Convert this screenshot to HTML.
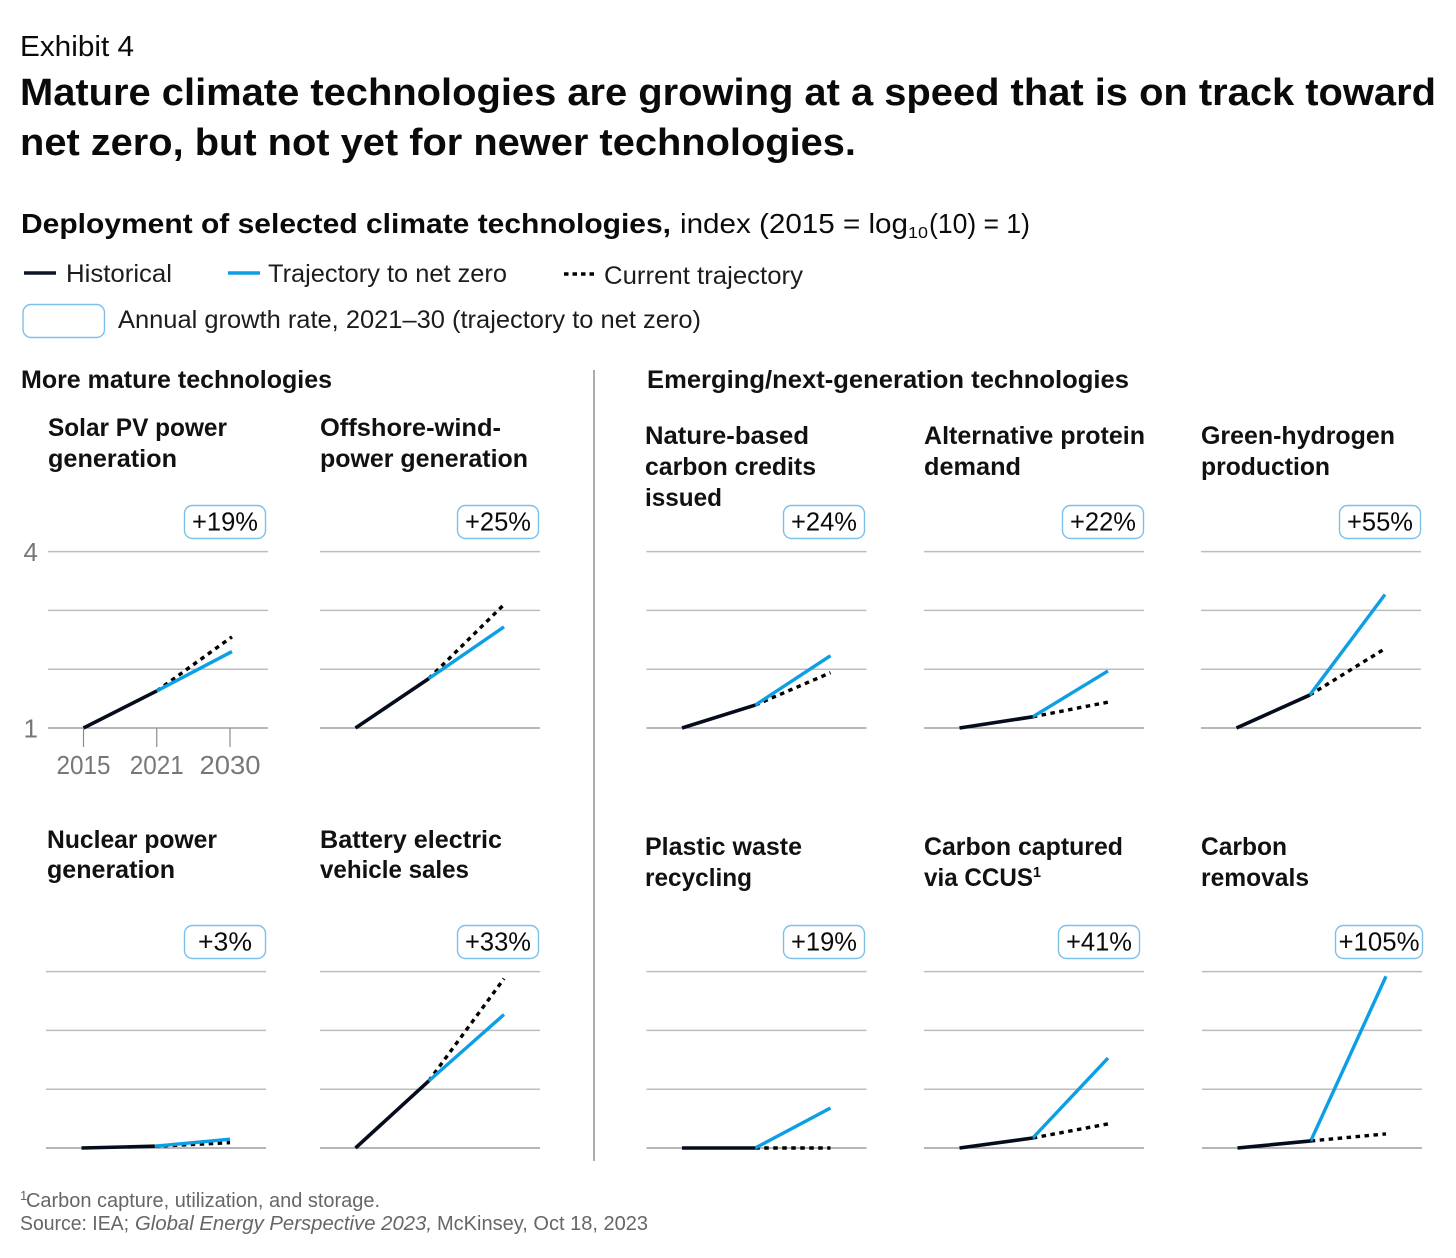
<!DOCTYPE html>
<html lang="en">
<head>
<meta charset="utf-8">
<title>Exhibit 4 - Deployment of selected climate technologies</title>
<style>
html,body{margin:0;padding:0;background:#fff;}
body{width:1456px;height:1258px;overflow:hidden;}
svg{display:block;}
text{font-family:"Liberation Sans",sans-serif;fill:#0a0a0a;}
.b{font-weight:700;}
.t{font-size:25px;fill:#1c1c1c;}
.p{font-size:25px;font-weight:700;fill:#111;}
.f{font-size:20px;fill:#666;}
</style>
</head>
<body>
<svg id="chart" xmlns="http://www.w3.org/2000/svg" width="1456" height="1258" viewBox="0 0 1456 1258">
  <rect x="0" y="0" width="1456" height="1258" fill="#fff"/>
  <text x="20" y="56" font-size="29" textLength="114" lengthAdjust="spacingAndGlyphs">Exhibit 4</text>
  <text class="b" x="20" y="105" font-size="38" textLength="1416" lengthAdjust="spacingAndGlyphs">Mature climate technologies are growing at a speed that is on track toward</text>
  <text class="b" x="20" y="155" font-size="38" textLength="836" lengthAdjust="spacingAndGlyphs">net zero, but not yet for newer technologies.</text>

  <text class="b" x="21" y="233" font-size="28" textLength="650" lengthAdjust="spacingAndGlyphs">Deployment of selected climate technologies,</text>
  <text x="680" y="233" font-size="28" fill="#222" textLength="228" lengthAdjust="spacingAndGlyphs">index (2015 = log</text>
  <text x="908" y="238" font-size="16" textLength="20" lengthAdjust="spacingAndGlyphs">10</text>
  <text x="929" y="233" font-size="28" textLength="101" lengthAdjust="spacingAndGlyphs">(10) = 1)</text>

  <g>
    <line x1="24" y1="273" x2="56" y2="273" stroke="#0b1526" stroke-width="3.4"/>
    <text class="t" x="66" y="282" textLength="106" lengthAdjust="spacingAndGlyphs">Historical</text>
    <line x1="228" y1="273" x2="260" y2="273" stroke="#0d9fe6" stroke-width="3.4"/>
    <text class="t" x="268" y="282" textLength="239" lengthAdjust="spacingAndGlyphs">Trajectory to net zero</text>
    <line x1="564" y1="274" x2="596" y2="274" stroke="#000" stroke-width="3.4" stroke-dasharray="4.5 4"/>
    <text class="t" x="604" y="284" textLength="199" lengthAdjust="spacingAndGlyphs">Current trajectory</text>
    <rect x="23" y="304.5" width="81.5" height="33" rx="8" fill="#fff" stroke="#7cc0ea" stroke-width="1.4"/>
    <text class="t" x="118" y="328" textLength="583" lengthAdjust="spacingAndGlyphs">Annual growth rate, 2021–30 (trajectory to net zero)</text>
  </g>

  <text class="p" x="21" y="388" textLength="311" lengthAdjust="spacingAndGlyphs">More mature technologies</text>
  <text class="p" x="647" y="388" textLength="482" lengthAdjust="spacingAndGlyphs">Emerging/next-generation technologies</text>
  <line x1="594" y1="370" x2="594" y2="1161" stroke="#777" stroke-width="1.2"/>

  <g>
    <text class="p" x="48" y="436" textLength="179" lengthAdjust="spacingAndGlyphs">Solar PV power</text>
    <text class="p" x="48" y="467" textLength="129" lengthAdjust="spacingAndGlyphs">generation</text>
    <text class="p" x="320" y="436" textLength="181" lengthAdjust="spacingAndGlyphs">Offshore-wind-</text>
    <text class="p" x="320" y="467" textLength="208" lengthAdjust="spacingAndGlyphs">power generation</text>
    <text class="p" x="645" y="444" textLength="164" lengthAdjust="spacingAndGlyphs">Nature-based</text>
    <text class="p" x="645" y="475" textLength="171" lengthAdjust="spacingAndGlyphs">carbon credits</text>
    <text class="p" x="645" y="506" textLength="77" lengthAdjust="spacingAndGlyphs">issued</text>
    <text class="p" x="924" y="444" textLength="221" lengthAdjust="spacingAndGlyphs">Alternative protein</text>
    <text class="p" x="924" y="475" textLength="97" lengthAdjust="spacingAndGlyphs">demand</text>
    <text class="p" x="1201" y="444" textLength="194" lengthAdjust="spacingAndGlyphs">Green-hydrogen</text>
    <text class="p" x="1201" y="475" textLength="129" lengthAdjust="spacingAndGlyphs">production</text>
    <text class="p" x="47" y="848" textLength="170" lengthAdjust="spacingAndGlyphs">Nuclear power</text>
    <text class="p" x="47" y="878" textLength="128" lengthAdjust="spacingAndGlyphs">generation</text>
    <text class="p" x="320" y="848" textLength="182" lengthAdjust="spacingAndGlyphs">Battery electric</text>
    <text class="p" x="320" y="878" textLength="149" lengthAdjust="spacingAndGlyphs">vehicle sales</text>
    <text class="p" x="645" y="855" textLength="157" lengthAdjust="spacingAndGlyphs">Plastic waste</text>
    <text class="p" x="645" y="886" textLength="107" lengthAdjust="spacingAndGlyphs">recycling</text>
    <text class="p" x="924" y="855" textLength="199" lengthAdjust="spacingAndGlyphs">Carbon captured</text>
    <text class="p" x="924" y="886" textLength="109" lengthAdjust="spacingAndGlyphs">via CCUS</text>
    <text x="1033" y="877" font-size="15" font-weight="700" textLength="8" lengthAdjust="spacingAndGlyphs">1</text>
    <text class="p" x="1201" y="855" textLength="86" lengthAdjust="spacingAndGlyphs">Carbon</text>
    <text class="p" x="1201" y="886" textLength="108" lengthAdjust="spacingAndGlyphs">removals</text>
  </g>

  <g id="panels"></g>

  <g>
    <text class="f" x="20" y="1200" style="font-size:13px">1</text>
    <text class="f" x="26" y="1207" textLength="354" lengthAdjust="spacingAndGlyphs">Carbon capture, utilization, and storage.</text>
    <text class="f" x="20" y="1230" textLength="109" lengthAdjust="spacingAndGlyphs">Source: IEA;</text>
    <text class="f" x="135" y="1230" font-style="italic" textLength="297" lengthAdjust="spacingAndGlyphs">Global Energy Perspective 2023,</text>
    <text class="f" x="437" y="1230" textLength="211" lengthAdjust="spacingAndGlyphs">McKinsey, Oct 18, 2023</text>
  </g>
</svg>
<script>
// ---- chart data (index values on the log scale, 2015 = 1) ----
const panelKeys = ['solar', 'offshore-wind', 'nature-credits', 'alt-protein', 'green-hydrogen', 'nuclear', 'battery-ev', 'plastic-recycling', 'ccus', 'carbon-removals'];
const years = [2015, 2021, 2030];
const yTicks = [1, 2, 3, 4];
const start2015 = [1, 1, 1, 1, 1, 1, 1, 1, 1, 1];
const historical2021 = [1.63, 1.84, 1.39, 1.19, 1.56, 1.03, 2.14, 1.0, 1.17, 1.12];
const netZero2030 = [2.30, 2.72, 2.23, 1.97, 3.27, 1.15, 3.27, 1.68, 2.53, 3.92];
const current2030 = [2.55, 3.10, 1.94, 1.44, 2.35, 1.09, 3.88, 1.0, 1.41, 1.24];
const growthLabels = ['+19%', '+25%', '+24%', '+22%', '+55%', '+3%', '+33%', '+19%', '+41%', '+105%'];
const yTickLabels = ['1', '4'];
const xTickLabels = ['2015', '2021', '2030'];

// ---- layout (not data) ----
const panelLeft = [48, 320, 646.5, 924, 1201, 46, 320, 646.5, 924, 1202];
const panelBaseline = [728, 728, 728, 728, 728, 1148, 1148, 1148, 1148, 1148];
const badgeRight = [266, 539, 865, 1144, 1421, 266, 539, 865, 1140, 1423];
const PANEL_W = 220, UNIT_H = 58.8, X_PAD = 35.5, X_SPAN = 146.5, LINE_OVERRUN = 2;

function xScale(panel, year) {
  // the x axis is categorical: 2021 sits at the middle of the axis
  const idx = years.indexOf(year);
  return panelLeft[panel] + X_PAD + idx / (years.length - 1) * X_SPAN;
}
function yScale(panel, value) {
  return panelBaseline[panel] - (value - 1) * UNIT_H;
}
const NS = 'http://www.w3.org/2000/svg';
function make(tag, attrs, parent) {
  const el = document.createElementNS(NS, tag);
  for (const k in attrs) el.setAttribute(k, attrs[k]);
  parent.appendChild(el);
  return el;
}
const root = document.getElementById('panels');

panelKeys.forEach(function (key, i) {
  const g = make('g', {}, root);
  
  

  yTicks.forEach(function (tick) {
    const y = yScale(i, tick);
    const grid = make('line', {
      x1: panelLeft[i], x2: panelLeft[i] + PANEL_W, y1: y, y2: y,
      stroke: tick === yTicks[0] ? '#8c8c8c' : '#bdbdbd',
      'stroke-width': tick === yTicks[0] ? 1.3 : 1.5
    }, g);
    
    
  });

  const cur = make('line', {
    x1: xScale(i, years[1]), y1: yScale(i, historical2021[i]),
    x2: xScale(i, years[2]) + LINE_OVERRUN, y2: yScale(i, current2030[i]),
    stroke: '#000', 'stroke-width': 3.4, 'stroke-dasharray': '4.5 4.5'
  }, g);
  
  

  const nz = make('line', {
    x1: xScale(i, years[1]), y1: yScale(i, historical2021[i]),
    x2: xScale(i, years[2]) + LINE_OVERRUN, y2: yScale(i, netZero2030[i]),
    stroke: '#0d9fe6', 'stroke-width': 3.4
  }, g);
  
  

  const hist = make('line', {
    x1: xScale(i, years[0]), y1: yScale(i, start2015[i]),
    x2: xScale(i, years[1]), y2: yScale(i, historical2021[i]),
    stroke: '#050d1c', 'stroke-width': 3.6
  }, g);
  
  

  const label = growthLabels[i];
  const bw = label.length > 4 ? 88 : 82;
  const bx = badgeRight[i] - bw;
  const by = panelBaseline[i] - 223;
  const badge = make('rect', {
    x: bx + 0.5, y: by + 0.5, width: bw - 1, height: 33, rx: 8,
    fill: '#fff', stroke: '#7cc0ea', 'stroke-width': 1.4
  }, g);
  
  
  const tw = label.length > 4 ? 81 : (label.length > 3 ? 66 : 54);
  const bt = make('text', {
    x: bx + bw / 2, y: by + 25.5, 'text-anchor': 'middle',
    'font-size': 26, fill: '#111', textLength: tw, lengthAdjust: 'spacingAndGlyphs'
  }, g);
  bt.textContent = label;
  
  
});

// axis labels live only on the first panel
const axisGroup = make('g', {}, root);



yTickLabels.forEach(function (lab) {
  const t = make('text', {
    x: 38, y: yScale(0, Number(lab)) + 9.5, 'text-anchor': 'end',
    'font-size': 26, style: 'fill:#777'
  }, axisGroup);
  t.textContent = lab;
  
  
});

years.forEach(function (yr, j) {
  const x = xScale(0, yr);
  const tick = make('line', {
    x1: x, x2: x, y1: yScale(0, 1), y2: yScale(0, 1) + 19,
    stroke: '#8c8c8c', 'stroke-width': 1.2
  }, axisGroup);
  
  
  const t = make('text', {
    x: x, y: yScale(0, 1) + 46, 'text-anchor': 'middle',
    'font-size': 26, style: 'fill:#777', textLength: j === 2 ? 61 : 54, lengthAdjust: 'spacingAndGlyphs'
  }, axisGroup);
  t.textContent = xTickLabels[j];
  
  
});
</script>
</body>
</html>
